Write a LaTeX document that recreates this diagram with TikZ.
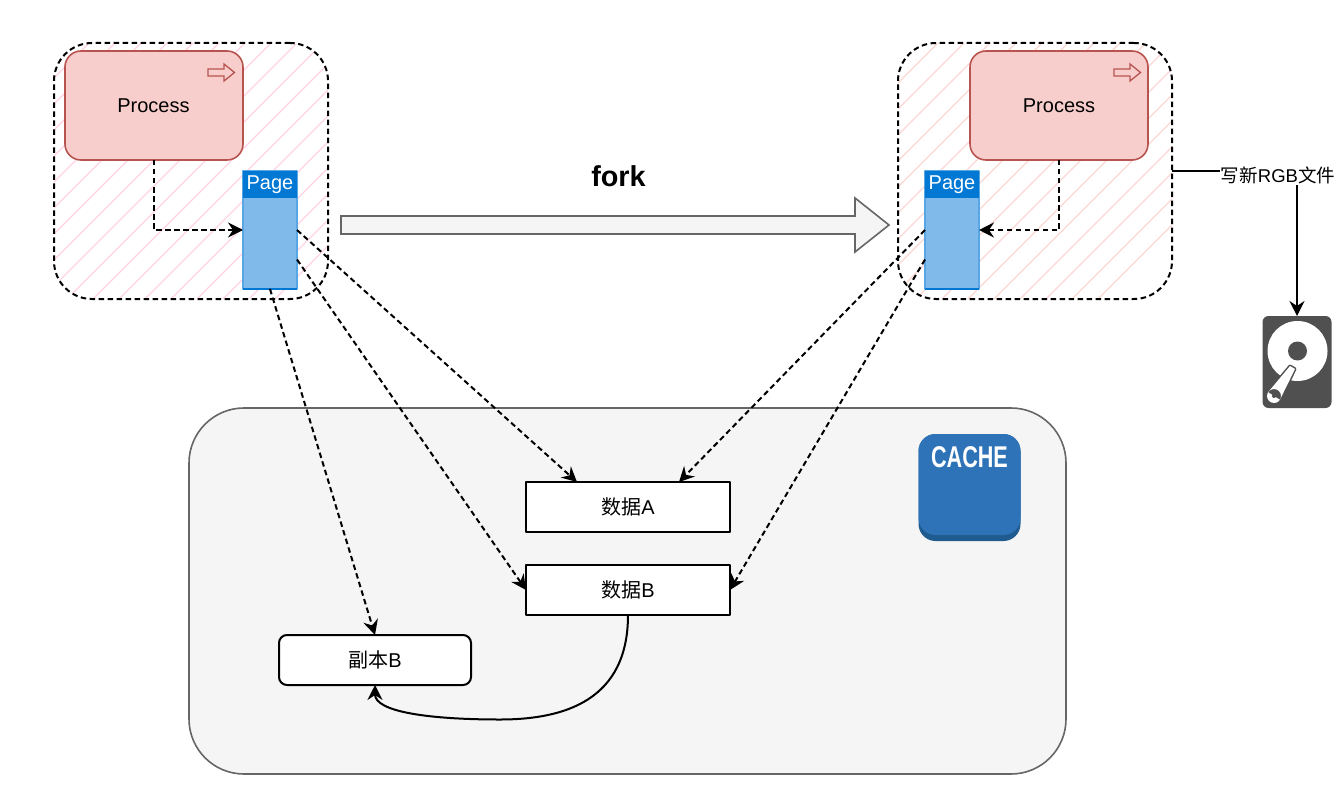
\documentclass[tikz,border=0pt]{standalone}
\usepackage{fontspec}
\setmainfont{Liberation Sans}
\newfontfamily\cjk{Noto Sans CJK SC}
\usetikzlibrary{arrows.meta,calc}

\definecolor{procfill}{HTML}{F8CECC}
\definecolor{procline}{HTML}{B85450}
\definecolor{pagehead}{HTML}{0078D4}
\definecolor{pagebody}{HTML}{7FBAEB}
\definecolor{cachefill}{HTML}{F5F5F5}
\definecolor{cacheline}{HTML}{666666}
\definecolor{cacheblue}{HTML}{2E73B8}
\definecolor{cachedark}{HTML}{1F5B8F}
\definecolor{diskgray}{HTML}{505050}
\definecolor{hatchleft}{HTML}{FFD3E4}
\definecolor{hatchright}{HTML}{FAD7D3}

\newcommand{\labelfont}{\fontsize{20}{24}\selectfont}

\tikzset{
    flow/.style={line width=2pt, -{Stealth[length=15pt,width=15pt,inset=5pt]}},
    dashflow/.style={flow, dash pattern=on 5.5pt off 3.5pt},
    framebox/.style={draw, line width=2pt, dash pattern=on 5.5pt off 3.5pt, rounded corners=38pt,
        minimum width=274pt, minimum height=256pt, inner sep=0pt, outer sep=0pt},
    procbox/.style={draw=procline, fill=procfill, line width=1.6pt, rounded corners=16pt,
        minimum width=178pt, minimum height=109pt, inner sep=0pt, outer sep=0pt, font=\labelfont},
    pagebox/.style={draw=pagebody!70!pagehead, fill=pagebody, line width=1.2pt,
        minimum width=54pt, minimum height=118pt, inner sep=0pt, outer sep=0pt},
    pagehdr/.style={fill=pagehead, text=white, minimum width=54pt, minimum height=27pt,
        inner sep=0pt, outer sep=0pt, font=\labelfont},
    databox/.style={draw, fill=white, line width=2pt, minimum width=204pt, minimum height=50pt,
        inner sep=0pt, outer sep=0pt, font=\labelfont},
    tinyarrow/.style={draw=procline, fill=procfill, line width=1.3pt, line join=miter}
}

\begin{document}
\begin{tikzpicture}[x=1pt, y=-1pt, line join=round]
    \useasboundingbox (0,0) rectangle (1340,805);

    % Cache area
    \node[draw=cacheline, fill=cachefill, line width=1.6pt, rounded corners=55pt, minimum width=877pt,
        minimum height=366pt, inner sep=0pt, outer sep=0pt] (cacheArea) at (627.5,591) {};

    % Hatched frames
    \begin{scope}
        \clip[rounded corners=38pt] (54,43) rectangle (328,299);
        \foreach \k in {-7,...,12}
            \draw[hatchleft, line width=1.2pt] (0,262+26*\k) -- (400,262+26*\k-400);
    \end{scope}
    \begin{scope}
        \clip[rounded corners=38pt] (898,43) rectangle (1172,299);
        \foreach \k in {-6,...,14}
            \draw[hatchright, line width=1.2pt] (850,1033+26*\k-850) -- (1250,1033+26*\k-1250);
    \end{scope}
    \node[framebox] (frameL) at (191,171) {};
    \node[framebox] (frameR) at (1035,171) {};

    % Processes
    \node[procbox] (procL) at (154,105.5) {\hspace{-1pt}Process};
    \node[procbox] (procR) at (1059,105.5) {Process};
    \draw[tinyarrow] (208,69) -- (224,69) -- (224,64) -- (234.5,72.5) -- (224,81) -- (224,76) -- (208,76) -- cycle;
    \draw[tinyarrow] (1114,69) -- (1130,69) -- (1130,64) -- (1140.5,72.5) -- (1130,81) -- (1130,76) -- (1114,76) -- cycle;

    % Pages
    \node[pagebox] (pageL) at (270,230) {};
    \node[pagebox] (pageR) at (952,230) {};
    \node[pagehdr] (hdrL) at (270,184.5) {\raisebox{-1pt}{Page}};
    \node[pagehdr] (hdrR) at (952,184.5) {\raisebox{-1pt}{Page}};
    \draw[pagehead, line width=1.2pt] (pageL.south west) -- (pageL.south east);
    \draw[pagehead, line width=1.2pt] (pageR.south west) -- (pageR.south east);
    \coordinate (pageLlow) at ($(pageL.north east)!0.75!(pageL.south east)$);
    \coordinate (pageRlow) at ($(pageR.north west)!0.75!(pageR.south west)$);

    % Fork arrow
    \node[font=\fontsize{28.8}{32}\selectfont\bfseries, inner sep=0pt] (forkLabel) at (618.5,176) {fork};
    \draw[draw=cacheline, fill=cachefill, line width=1.6pt, line join=miter] (341,216) -- (855,216) -- (855,198)
        -- (889,225) -- (855,252) -- (855,234) -- (341,234) -- cycle;

    % Data blocks
    \node[databox] (dataA) at (628,507) {{\cjk 数据}A};
    \node[databox] (dataB) at (628,590) {{\cjk 数据}B};
    \node[databox, rounded corners=8pt, minimum width=192pt] (copyB) at (375,660) {{\cjk 副本}B};
    \coordinate (dataAleft) at ($(dataA.north west)!0.25!(dataA.north east)$);
    \coordinate (dataAright) at ($(dataA.north west)!0.75!(dataA.north east)$);

    % Cache badge
    \node[fill=cachedark, rounded corners=17pt, minimum width=102pt, minimum height=107pt, inner sep=0pt,
        outer sep=0pt] (badgeBase) at (969.5,487.5) {};
    \node[fill=cacheblue, rounded corners=17pt, minimum width=102pt, minimum height=101pt, inner sep=0pt,
        outer sep=0pt] (badge) at (969.5,484.5) {};
    \node[text=white, inner sep=0pt, font=\fontsize{30}{32}\selectfont\bfseries] (badgeText) at (969.5,457)
        {\scalebox{0.72}[1]{CACHE}};

    % Disk
    \node[fill=diskgray, rounded corners=6pt, minimum width=69pt, minimum height=92pt, inner sep=0pt,
        outer sep=0pt] (disk) at (1297,362) {};
    \fill[white] (1297.5,351) circle (30pt);
    \fill[diskgray] (1297.5,351) circle (9.5pt);
    \filldraw[diskgray, line width=3pt] (1290,366) -- (1295,369) -- (1279.9,399.8) -- (1268.1,392.2) -- cycle
        (1274,396) circle (7pt);
    \fill[white] (1290,366) -- (1295,369) -- (1279.9,399.8) -- (1268.1,392.2) -- cycle (1274,396) circle (7pt);
    \fill[diskgray] (1274,396) circle (2pt);

    % Connectors
    \draw[dashflow] (procL.south) |- (pageL.west);
    \draw[dashflow] (procR.south) |- (pageR.east);
    \draw[dashflow] (pageL.east) -- (dataAleft);
    \draw[dashflow] (pageLlow) -- (dataB.west);
    \draw[dashflow] (pageL.south) -- (copyB.north);
    \draw[dashflow] (pageR.west) -- (dataAright);
    \draw[dashflow] (pageRlow) -- (dataB.east);
    \draw[flow] (dataB.south) .. controls (628,700) and (565,719.5) .. (500,719.5)
        .. controls (430,719.5) and (375,712) .. (copyB.south);
    \draw[flow] (frameR.east) -| (disk.north);
    \node[fill=white, inner sep=1pt, font=\fontsize{18.5}{22}\selectfont] (writeLabel) at (1278,175) {{\cjk 写新}RGB{\cjk 文件}};
\end{tikzpicture}
\end{document}
